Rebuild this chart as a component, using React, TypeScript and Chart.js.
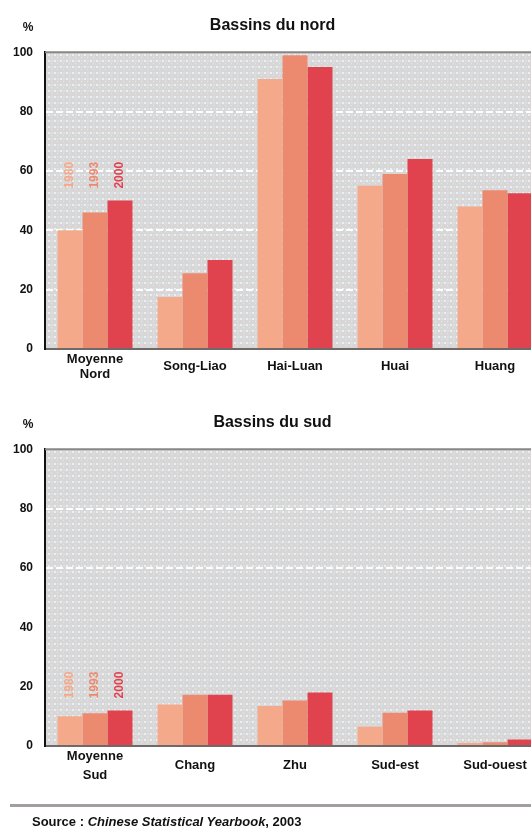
import { useEffect, useRef } from "react";
import { Chart, registerables } from "chart.js";

Chart.register(...registerables);

// Part des surfaces irriguées, en %
const years = ["1980", "1993", "2000"];
const yearColors = ["#f4a98b", "#ec8a70", "#e0434e"];

const nordCategories = [["Moyenne", "Nord"], "Song-Liao", "Hai-Luan", "Huai", "Huang"];
const nord1980 = [40, 17.5, 91, 55, 48];
const nord1993 = [46, 25.5, 99, 59, 53.5];
const nord2000 = [50, 30, 95, 64, 52.5];

const sudCategories = [["Moyenne", "Sud"], "Chang", "Zhu", "Sud-est", "Sud-ouest"];
const sud1980 = [10, 14, 13.5, 6.5, 1];
const sud1993 = [11, 17.3, 15.3, 11.2, 1.3];
const sud2000 = [12, 17.3, 18, 12, 2.2];

const yTicks = [0, 20, 40, 60, 80, 100];

const FONT = "'Liberation Sans', Arial, sans-serif";

function makePattern(ctx: CanvasRenderingContext2D) {
  const tile = document.createElement("canvas");
  tile.width = 6;
  tile.height = 6;
  const t = tile.getContext("2d")!;
  t.fillStyle = "#d9d6d6";
  t.fillRect(0, 0, 6, 6);
  t.fillStyle = "#efeeef";
  t.fillRect(0, 0, 2, 2);
  t.fillStyle = "#d2e2ec";
  t.fillRect(3, 0, 2, 2);
  t.fillStyle = "#d2cfe2";
  t.fillRect(0, 3, 1, 1);
  t.fillStyle = "#e6e5e8";
  t.fillRect(3, 3, 1, 1);
  return ctx.createPattern(tile, "repeat");
}

// fond pointillé + bord supérieur + "%" + étiquettes des années
const decorPlugin = {
  id: "decor",
  beforeDraw(chart: any) {
    const { ctx, chartArea } = chart;
    ctx.save();
    ctx.fillStyle = makePattern(ctx) || "#d9d6d6";
    ctx.fillRect(chartArea.left, chartArea.top, chartArea.right - chartArea.left, chartArea.bottom - chartArea.top);
    ctx.restore();
  },
  afterDraw(chart: any) {
    const { ctx, chartArea } = chart;
    ctx.save();
    ctx.strokeStyle = "#8a8686";
    ctx.lineWidth = 2;
    ctx.beginPath();
    ctx.moveTo(chartArea.left, chartArea.top);
    ctx.lineTo(chartArea.right, chartArea.top);
    ctx.stroke();

    ctx.fillStyle = "#111";
    ctx.font = `bold 12px ${FONT}`;
    ctx.textAlign = "center";
    ctx.textBaseline = "middle";
    ctx.fillText("%", 28, chartArea.top - 25);

    // années au-dessus du premier groupe
    let top = Infinity;
    chart.data.datasets.forEach((_: any, i: number) => {
      const bar = chart.getDatasetMeta(i).data[0];
      top = Math.min(top, bar.y);
    });
    ctx.font = `bold 12px ${FONT}`;
    ctx.textAlign = "left";
    chart.data.datasets.forEach((ds: any, i: number) => {
      const bar = chart.getDatasetMeta(i).data[0];
      ctx.save();
      ctx.translate(bar.x, top - 12);
      ctx.rotate(-Math.PI / 2);
      ctx.fillStyle = ds.backgroundColor;
      ctx.fillText(ds.label, 0, 0);
      ctx.restore();
    });
    ctx.restore();
  },
};

function BarPanel({
  title,
  categories,
  series,
  gridValues,
  lineHeight,
}: {
  title: string;
  categories: any[];
  series: number[][];
  gridValues: number[];
  lineHeight: number;
}) {
  const canvasRef = useRef<HTMLCanvasElement | null>(null);
  const chartRef = useRef<Chart<"bar"> | null>(null);

  useEffect(() => {
    if (!canvasRef.current) return;
    if (chartRef.current) chartRef.current.destroy();

    chartRef.current = new Chart(canvasRef.current, {
      type: "bar",
      data: {
        labels: categories,
        datasets: series.map((values, i) => ({
          label: years[i],
          data: values,
          backgroundColor: yearColors[i],
          borderWidth: 0,
          categoryPercentage: 0.75,
          barPercentage: 1,
        })),
      },
      options: {
        responsive: false,
        animation: false,
        layout: { padding: { left: 0, right: 15, bottom: 0, top: 0 } },
        plugins: {
          legend: { display: false },
          tooltip: { enabled: false },
          title: {
            display: true,
            text: title,
            color: "#111",
            font: { family: FONT, size: 16, weight: "bold", lineHeight: 1.2 },
            padding: { top: 16, bottom: 17 },
          },
        },
        scales: {
          x: {
            grid: { display: false, drawTicks: false },
            border: { display: true, color: "#6e6a6a", width: 2 },
            ticks: {
              color: "#111",
              padding: 10,
              crossAlign: "center",
              maxRotation: 0,
              autoSkip: false,
              font: { family: FONT, size: 13, weight: "bold", lineHeight },
            },
            afterFit: (scale: any) => {
              scale.height = 51;
            },
          },
          y: {
            min: 0,
            max: 100,
            afterBuildTicks: (scale: any) => {
              scale.ticks = yTicks.map((v) => ({ value: v }));
            },
            grid: {
              drawTicks: false,
              lineWidth: 2,
              color: (c: any) => (gridValues.includes(c.tick?.value) ? "rgba(255,255,255,0.95)" : "rgba(0,0,0,0)"),
            },
            border: { display: true, color: "#111", width: 2, dash: [7, 3] },
            ticks: {
              color: "#111",
              padding: 12,
              font: { family: FONT, size: 12, weight: "bold" },
            },
            afterFit: (scale: any) => {
              scale.width = 45;
            },
          },
        },
      },
      plugins: [decorPlugin],
    });

    return () => {
      chartRef.current?.destroy();
      chartRef.current = null;
    };
  }, [title, categories, series, gridValues, lineHeight]);

  return <canvas ref={canvasRef} width={560} height={400} style={{ width: 560, height: 400, display: "block" }} />;
}

export default function App() {
  return (
    <div
      style={{
        position: "absolute",
        left: 0,
        top: 0,
        width: 531,
        height: 838,
        overflow: "hidden",
        background: "#fff",
        fontFamily: FONT,
      }}
    >
      <div style={{ position: "absolute", left: 0, top: 0 }}>
        <BarPanel
          title="Bassins du nord"
          categories={nordCategories}
          series={[nord1980, nord1993, nord2000]}
          gridValues={[20, 40, 60, 80]}
          lineHeight={1.2}
        />
      </div>
      <div style={{ position: "absolute", left: 0, top: 397 }}>
        <BarPanel
          title="Bassins du sud"
          categories={sudCategories}
          series={[sud1980, sud1993, sud2000]}
          gridValues={[60, 80]}
          lineHeight={1.5}
        />
      </div>
      <div style={{ position: "absolute", left: 10, top: 804, width: 530, height: 3, background: "#a29e9e" }} />
      <div
        style={{
          position: "absolute",
          left: 32,
          top: 814,
          fontSize: 13,
          fontWeight: "bold",
          color: "#111",
          whiteSpace: "nowrap",
        }}
      >
        Source : <i>Chinese Statistical Yearbook</i>, 2003
      </div>
    </div>
  );
}
